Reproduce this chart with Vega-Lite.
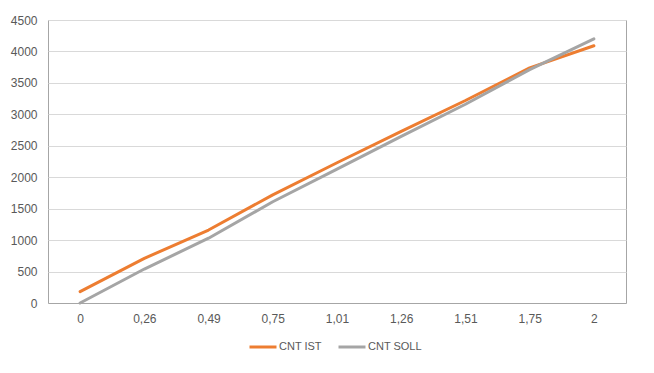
{
  "$schema": "https://vega.github.io/schema/vega-lite/v6.json",
  "autosize": {"type": "none"},
  "padding": {"left": 48, "top": 20, "right": 28, "bottom": 70},
  "width": 578,
  "height": 283,
  "background": "white",
  "config": {
    "view": {"stroke": "#a6a6a6", "strokeWidth": 1},
    "font": "Liberation Sans"
  },
  "data": {
    "values": [
      {"x": "0", "series": "CNT IST", "value": 180},
      {"x": "0,26", "series": "CNT IST", "value": 710},
      {"x": "0,49", "series": "CNT IST", "value": 1160},
      {"x": "0,75", "series": "CNT IST", "value": 1720},
      {"x": "1,01", "series": "CNT IST", "value": 2230},
      {"x": "1,26", "series": "CNT IST", "value": 2730},
      {"x": "1,51", "series": "CNT IST", "value": 3220},
      {"x": "1,75", "series": "CNT IST", "value": 3740},
      {"x": "2", "series": "CNT IST", "value": 4090},
      {"x": "0", "series": "CNT SOLL", "value": 0},
      {"x": "0,26", "series": "CNT SOLL", "value": 540},
      {"x": "0,49", "series": "CNT SOLL", "value": 1030},
      {"x": "0,75", "series": "CNT SOLL", "value": 1610},
      {"x": "1,01", "series": "CNT SOLL", "value": 2130},
      {"x": "1,26", "series": "CNT SOLL", "value": 2650},
      {"x": "1,51", "series": "CNT SOLL", "value": 3160},
      {"x": "1,75", "series": "CNT SOLL", "value": 3710},
      {"x": "2", "series": "CNT SOLL", "value": 4200}
    ]
  },
  "mark": {"type": "line", "strokeWidth": 3, "strokeCap": "round", "strokeJoin": "round"},
  "encoding": {
    "x": {
      "field": "x",
      "type": "ordinal",
      "sort": ["0", "0,26", "0,49", "0,75", "1,01", "1,26", "1,51", "1,75", "2"],
      "scale": {"type": "point", "padding": 0.5},
      "axis": {
        "title": null,
        "labelAngle": 0,
        "labelColor": "#595959",
        "labelFontSize": 12,
        "labelPadding": 10,
        "ticks": false,
        "domain": true,
        "domainColor": "#a6a6a6",
        "grid": false
      }
    },
    "y": {
      "field": "value",
      "type": "quantitative",
      "scale": {"domain": [0, 4500], "nice": false},
      "axis": {
        "title": null,
        "format": "d",
        "values": [0, 500, 1000, 1500, 2000, 2500, 3000, 3500, 4000, 4500],
        "labelColor": "#595959",
        "labelFontSize": 12,
        "labelPadding": 11,
        "ticks": false,
        "domain": false,
        "gridColor": "#d9d9d9",
        "gridWidth": 1
      }
    },
    "color": {
      "field": "series",
      "type": "nominal",
      "scale": {"domain": ["CNT IST", "CNT SOLL"], "range": ["#ED7D31", "#A5A5A5"]},
      "legend": {
        "title": null,
        "orient": "none",
        "direction": "horizontal",
        "legendX": 200,
        "legendY": 312,
        "symbolType": "stroke",
        "symbolSize": 729,
        "symbolStrokeWidth": 3,
        "labelFontSize": 11,
        "labelColor": "#595959",
        "labelOffset": 1,
        "columnPadding": 10
      }
    }
  }
}
